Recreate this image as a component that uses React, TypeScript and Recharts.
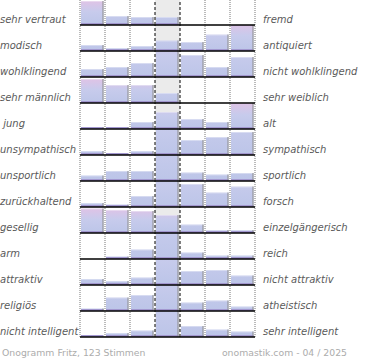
import React from "react";
import { BarChart, Bar, XAxis, YAxis, ReferenceLine, ReferenceArea } from "recharts";

const linkeBegriffe = [
  "sehr vertraut",
  "modisch",
  "wohlklingend",
  "sehr männlich",
  " jung",
  "unsympathisch",
  "unsportlich",
  "zurückhaltend",
  "gesellig",
  "arm",
  "attraktiv",
  "religiös",
  "nicht intelligent",
];

const rechteBegriffe = [
  "fremd",
  "antiquiert",
  "nicht wohlklingend",
  "sehr weiblich",
  "alt",
  "sympathisch",
  "sportlich",
  "forsch",
  "einzelgängerisch",
  "reich",
  "nicht attraktiv",
  "atheistisch",
  "sehr intelligent",
];

// 7 Stufen, Stufe 4 = neutral
const stufen = [1, 2, 3, 4, 5, 6, 7];

// Balkenwerte je Zeile (Stufe 1..7), Mitte darf über die Zeilenhöhe hinausgehen
const vertrautFremd = [24, 9, 8, 8, 0, 0, 0];
const modischAntiquiert = [6, 3, 5, 10.5, 9, 16.5, 27.5];
const wohlklingend = [8, 10, 14, 40, 22, 10, 20];
const maennlichWeiblich = [24, 18, 18, 10, 0, 0, 0];
const jungAlt = [2, 2, 7, 17, 10, 7, 26];
const sympathisch = [4, 1, 4, 52, 15, 18, 23];
const sportlich = [5.5, 10, 10, 58, 8.5, 6.5, 8];
const zurueckhaltendForsch = [4, 2.5, 11, 44, 23, 14.5, 20.5];
const geselligEinzelgaenger = [24.5, 23, 22, 18, 8.5, 3, 3];
const armReich = [0, 2.5, 9.5, 62, 6.5, 3.5, 3.5];
const attraktiv = [6, 4, 7.5, 48, 14, 15, 9.5];
const religioesAtheistisch = [2.5, 13.5, 16, 50, 8.5, 10.5, 4.5];
const intelligent = [1, 4, 6.5, 56, 11, 7.5, 5.5];

const zeilen = [
  vertrautFremd,
  modischAntiquiert,
  wohlklingend,
  maennlichWeiblich,
  jungAlt,
  sympathisch,
  sportlich,
  zurueckhaltendForsch,
  geselligEinzelgaenger,
  armReich,
  attraktiv,
  religioesAtheistisch,
  intelligent,
];

const ZEILEN_HOEHE = 26;
const ERSTE_LINIE = 25;
const SKALA_MAX = 26;

const Balken = (props: any) => {
  const { x, y, width, height, payload, zeilenMax, nr, index } = props;
  if (!height || height <= 0) return <g />;
  const unten = y + height;
  // Verlauf reicht bis zur Spitze des höchsten Balkens der Zeile
  const oben = unten - (height * zeilenMax) / payload.wert;
  const id = `verlauf-${nr}-${index}`;
  return (
    <g>
      <defs>
        <linearGradient id={id} gradientUnits="userSpaceOnUse" x1={0} y1={oben} x2={0} y2={unten}>
          <stop offset="0" stopColor="#dfc3e6" />
          <stop offset="0.45" stopColor="#c7cbec" />
          <stop offset="1" stopColor="#bcc5e8" />
        </linearGradient>
      </defs>
      <rect x={x} y={y} width={width} height={height} fill={`url(#${id})`} />
      <rect x={x} y={y} width={width} height={1} fill="#ffffff" fillOpacity={0.35} />
      <rect x={x} y={unten - 2} width={width} height={2} fill="#a297cf" />
      <line x1={x + width - 0.5} y1={y} x2={x + width - 0.5} y2={unten} stroke="#8c8c8c" />
    </g>
  );
};

const Zeile = ({ werte, nr }: any) => {
  const daten = stufen.map((s, i) => ({ stufe: s - 0.5, wert: werte[i] }));
  const zeilenMax = Math.max(...werte);
  const grundlinie = ERSTE_LINIE + nr * ZEILEN_HOEHE;
  return (
    <div style={{ position: "absolute", left: 79, top: grundlinie - ZEILEN_HOEHE, zIndex: 20 - nr }}>
      <BarChart
        width={177}
        height={27}
        data={daten}
        margin={{ top: 0, right: 1, bottom: 1, left: 1 }}
        barGap={0}
        barCategoryGap={0}
      >
        <XAxis type="number" dataKey="stufe" domain={[0, 7]} hide />
        <YAxis type="number" domain={[0, SKALA_MAX]} allowDataOverflow hide />
        <ReferenceArea x1={3} x2={4} fill="#ebebeb" fillOpacity={1} stroke="none" />
        <Bar
          dataKey="wert"
          barSize={25}
          isAnimationActive={false}
          shape={(p: any) => <Balken {...p} zeilenMax={zeilenMax} nr={nr} />}
        />
        {[0, 1, 2, 5, 6, 7].map((x) => (
          <ReferenceLine key={`p-${x}`} x={x} stroke="#777777" strokeDasharray="1 1" />
        ))}
        {[3, 4].map((x) => (
          <ReferenceLine key={`s-${x}`} x={x} stroke="#000000" strokeDasharray="3 2" />
        ))}
        <ReferenceLine y={0} stroke="#000000" strokeWidth={1.5} />
      </BarChart>
    </div>
  );
};

const beschriftung: any = {
  position: "absolute",
  font: "italic 10px 'DejaVu Sans'",
  lineHeight: "12px",
  color: "#5a5a5a",
  whiteSpace: "pre",
  zIndex: 40,
};

const fussText: any = {
  position: "absolute",
  top: 347,
  font: "9.3px 'DejaVu Sans'",
  lineHeight: "11px",
  color: "#acacac",
  whiteSpace: "pre",
};

export default function App() {
  return (
    <div
      style={{
        position: "absolute",
        left: 0,
        top: 0,
        width: 370,
        height: 360,
        background: "#ffffff",
        overflow: "hidden",
      }}
    >
      {zeilen.map((werte, nr) => (
        <Zeile key={nr} werte={werte} nr={nr} />
      ))}
      {linkeBegriffe.map((t, nr) => (
        <div key={`l-${nr}`} style={{ ...beschriftung, left: 0, top: ERSTE_LINIE + nr * ZEILEN_HOEHE - 11 }}>
          {t}
        </div>
      ))}
      {rechteBegriffe.map((t, nr) => (
        <div key={`r-${nr}`} style={{ ...beschriftung, left: 263, top: ERSTE_LINIE + nr * ZEILEN_HOEHE - 11 }}>
          {t}
        </div>
      ))}
      <div style={{ ...fussText, left: 2 }}>Onogramm Fritz, 123 Stimmen</div>
      <div style={{ ...fussText, right: 23 }}>onomastik.com - 04 / 2025</div>
    </div>
  );
}
